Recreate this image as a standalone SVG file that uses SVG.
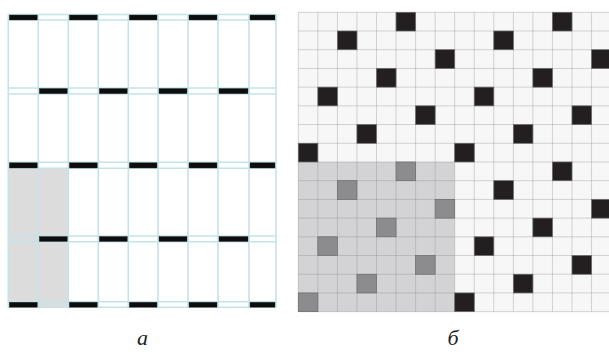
<svg xmlns="http://www.w3.org/2000/svg" xmlns:xlink="http://www.w3.org/1999/xlink" width="609" height="352" viewBox="0 0 609 352">
<style>
.bl{stroke:#c3e3ea;stroke-width:1.6;fill:none}
.bar{fill:#0d0d0d;stroke:#333;stroke-width:0.4}
.gl{stroke:#8a8a8a;stroke-opacity:0.35;stroke-width:1;fill:none}
.lbl{font-family:"Liberation Serif","Times New Roman",serif;font-style:italic;font-size:22px;fill:#222;text-anchor:middle}
</style>
<defs>
<g id="block" stroke="#6a6a6a" stroke-width="0.7">
<rect x="97.75" y="0" width="19.55" height="18.71"/>
<rect x="39.1" y="18.71" width="19.55" height="18.71"/>
<rect x="136.85" y="37.42" width="19.55" height="18.71"/>
<rect x="78.2" y="56.13" width="19.55" height="18.71"/>
<rect x="19.55" y="74.84" width="19.55" height="18.71"/>
<rect x="117.3" y="93.55" width="19.55" height="18.71"/>
<rect x="58.65" y="112.26" width="19.55" height="18.71"/>
<rect x="0" y="130.97" width="19.55" height="18.71"/>
</g>
</defs>
<rect width="609" height="352" fill="#ffffff"/>
<g id="panel-a">
<rect x="8.3" y="168.3" width="60" height="139" fill="#dcdcdc"/>
<path class="bl" d="M8.3 14V307.5M38.3 14V307.5M68.3 14V307.5M98.3 14V307.5M128.3 14V307.5M158 14V307.5M188 14V307.5M218 14V307.5M249 14V307.5M276 14V307.5"/>
<path class="bl" d="M8.3 14.5H276M8.3 20H276M8.3 88H276M8.3 94H276M8.3 162.3H276M8.3 168.3H276M8.3 236H276M8.3 241.7H276M8.3 301.7H276M8.3 307.3H276"/>
<g id="bars">
<rect class="bar" x="9.3" y="15" width="28" height="5"/>
<rect class="bar" x="69.3" y="15" width="28" height="5"/>
<rect class="bar" x="129.3" y="15" width="27.7" height="5"/>
<rect class="bar" x="189" y="15" width="28" height="5"/>
<rect class="bar" x="250" y="15" width="25" height="5"/>
<rect class="bar" x="39.3" y="88.5" width="28" height="5.2"/>
<rect class="bar" x="99.3" y="88.5" width="28" height="5.2"/>
<rect class="bar" x="159" y="88.5" width="28" height="5.2"/>
<rect class="bar" x="219" y="88.5" width="29" height="5.2"/>
<rect class="bar" x="9.3" y="162.8" width="28" height="5.2"/>
<rect class="bar" x="69.3" y="162.8" width="28" height="5.2"/>
<rect class="bar" x="129.3" y="162.8" width="27.7" height="5.2"/>
<rect class="bar" x="189" y="162.8" width="28" height="5.2"/>
<rect class="bar" x="250" y="162.8" width="25" height="5.2"/>
<rect class="bar" x="39.3" y="236.5" width="28" height="5"/>
<rect class="bar" x="99.3" y="236.5" width="28" height="5"/>
<rect class="bar" x="159" y="236.5" width="28" height="5"/>
<rect class="bar" x="219" y="236.5" width="29" height="5"/>
<rect class="bar" x="9.3" y="302.2" width="28" height="5"/>
<rect class="bar" x="69.3" y="302.2" width="28" height="5"/>
<rect class="bar" x="129.3" y="302.2" width="27.7" height="5"/>
<rect class="bar" x="189" y="302.2" width="28" height="5"/>
<rect class="bar" x="250" y="302.2" width="25" height="5"/>
</g>
</g>
<g id="panel-b">
<rect x="298.3" y="12.3" width="312.8" height="299.36" fill="#f7f7f7"/>
<rect x="298.3" y="161.98" width="156.4" height="149.68" fill="#d3d3d5"/>
<path class="gl" d="M298.3 12.3V311.66M317.85 12.3V311.66M337.4 12.3V311.66M356.95 12.3V311.66M376.5 12.3V311.66M396.05 12.3V311.66M415.6 12.3V311.66M435.15 12.3V311.66M454.7 12.3V311.66M474.25 12.3V311.66M493.8 12.3V311.66M513.35 12.3V311.66M532.9 12.3V311.66M552.45 12.3V311.66M572 12.3V311.66M591.55 12.3V311.66"/>
<path class="gl" d="M298.3 12.3H611M298.3 31.01H611M298.3 49.72H611M298.3 68.43H611M298.3 87.14H611M298.3 105.85H611M298.3 124.56H611M298.3 143.27H611M298.3 161.98H611M298.3 180.69H611M298.3 199.4H611M298.3 218.11H611M298.3 236.82H611M298.3 255.53H611M298.3 274.24H611M298.3 292.95H611M298.3 311.66H611"/>
<use xlink:href="#block" href="#block" x="298.3" y="12.3" fill="#231f20"/>
<use xlink:href="#block" href="#block" x="454.7" y="12.3" fill="#231f20"/>
<use xlink:href="#block" href="#block" x="298.3" y="161.98" fill="#8c8c8e"/>
<use xlink:href="#block" href="#block" x="454.7" y="161.98" fill="#231f20"/>
</g>
<g id="labels">
<text class="lbl" x="142.5" y="345">а</text>
<text class="lbl" x="453" y="345">б</text>
</g>
</svg>
